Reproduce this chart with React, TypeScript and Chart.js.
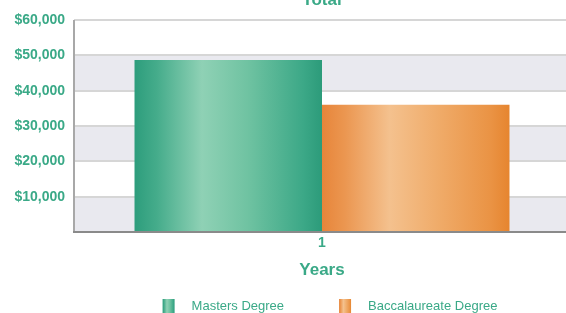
import React, { useEffect, useRef } from "react";
import { Chart, registerables } from "chart.js";

Chart.register(...registerables);

const categories = ["1"];
const seriesNames = ["Masters Degree", "Baccalaureate Degree"];
const mastersValues = [48700];
const baccalaureateValues = [36000];
const yTicks = [0, 10000, 20000, 30000, 40000, 50000, 60000];

const TEAL = "#3aa987";
const FONT = "'Liberation Sans', Arial, sans-serif";

const gradStops = [
  ["#2d9d7c", "#45ac8b", "#8fd1b5", "#70c3a2", "#3ca887", "#2c9b7a"],
  ["#e7853a", "#eb9650", "#f4c18e", "#f0ad6c", "#ea9344", "#e6852f"],
];
const stopPos = [0, 0.12, 0.36, 0.6, 0.9, 1];

function makeGrad(ctx: CanvasRenderingContext2D, x0: number, x1: number, i: number) {
  const g = ctx.createLinearGradient(x0, 0, x1, 0);
  stopPos.forEach((p, k) => g.addColorStop(p, gradStops[i][k]));
  return g;
}

const bandsPlugin = {
  id: "bands",
  beforeDatasetsDraw(chart: any) {
    const { ctx, chartArea, scales } = chart;
    const y = scales.y;
    ctx.save();
    for (let k = 0; k < yTicks.length - 1; k++) {
      if (k % 2 === 0) {
        const top = y.getPixelForValue(yTicks[k + 1]);
        const bot = y.getPixelForValue(yTicks[k]);
        ctx.fillStyle = "#e9e9ef";
        ctx.fillRect(chartArea.left, top, chartArea.right - chartArea.left, bot - top);
      }
    }
    ctx.strokeStyle = "#d6d6d6";
    ctx.lineWidth = 2;
    for (let k = 1; k < yTicks.length; k++) {
      const py = Math.round(y.getPixelForValue(yTicks[k]));
      ctx.beginPath();
      ctx.moveTo(chartArea.left, py);
      ctx.lineTo(chartArea.right, py);
      ctx.stroke();
    }
    chart.data.datasets.forEach((ds: any, i: number) => {
      const meta = chart.getDatasetMeta(i);
      meta.data.forEach((el: any) => {
        const x0 = el.x - el.width / 2;
        const x1 = el.x + el.width / 2;
        el.options.backgroundColor = makeGrad(ctx, x0, x1, i);
      });
    });
    ctx.restore();
  },
  afterDatasetsDraw(chart: any) {
    const { ctx, chartArea } = chart;
    ctx.save();
    ctx.strokeStyle = "#a8a8a8";
    ctx.lineWidth = 2;
    ctx.beginPath();
    ctx.moveTo(chartArea.left, chartArea.top);
    ctx.lineTo(chartArea.left, chartArea.bottom);
    ctx.stroke();
    ctx.strokeStyle = "#8a8a8a";
    ctx.beginPath();
    ctx.moveTo(chartArea.left - 1, chartArea.bottom);
    ctx.lineTo(chartArea.right, chartArea.bottom);
    ctx.stroke();
    ctx.restore();
  },
};

const titleLegendPlugin = {
  id: "titleLegend",
  afterDraw(chart: any) {
    const { ctx, chartArea } = chart;
    ctx.save();
    ctx.fillStyle = TEAL;
    ctx.font = `bold 17px ${FONT}`;
    ctx.textAlign = "center";
    ctx.textBaseline = "alphabetic";
    ctx.fillText("Total", (chartArea.left + chartArea.right) / 2, 5);

    ctx.font = `13px ${FONT}`;
    ctx.textAlign = "left";
    ctx.textBaseline = "middle";
    const box = 12;
    const gapBoxText = 17;
    const gapItems = 55;
    const labels = chart.data.datasets.map((d: any) => d.label);
    const widths = labels.map((l: string) => box + gapBoxText + ctx.measureText(l).width);
    const total = widths.reduce((a: number, b: number) => a + b, 0) + gapItems * (labels.length - 1);
    let x = 330 - total / 2;
    const cy = 306;
    labels.forEach((l: string, i: number) => {
      ctx.fillStyle = makeGrad(ctx, x, x + box, i);
      ctx.fillRect(x, cy - 7, box, box + 3);
      ctx.fillStyle = TEAL;
      ctx.fillText(l, x + box + gapBoxText, cy);
      x += widths[i] + gapItems;
    });
    ctx.restore();
  },
};

export default function App() {
  const ref = useRef<HTMLCanvasElement>(null);
  useEffect(() => {
    if (!ref.current) return;
    const chart = new Chart(ref.current, {
      type: "bar",
      data: {
        labels: categories,
        datasets: [
          { label: seriesNames[0], data: mastersValues, backgroundColor: gradStops[0][2], borderWidth: 0 },
          { label: seriesNames[1], data: baccalaureateValues, backgroundColor: gradStops[1][2], borderWidth: 0 },
        ],
      },
      options: {
        responsive: false,
        animation: false,
        devicePixelRatio: 1,
        layout: { padding: { left: 0, right: 10, top: 20, bottom: 31 } },
        datasets: { bar: { categoryPercentage: 0.756, barPercentage: 1 } },
        plugins: { legend: { display: false }, title: { display: false }, tooltip: { enabled: false } },
        scales: {
          x: {
            grid: { display: false, drawTicks: false },
            border: { display: false },
            ticks: { color: TEAL, font: { family: FONT, size: 14, weight: "bold" }, padding: 3 },
            title: {
              display: true,
              text: "Years",
              color: TEAL,
              font: { family: FONT, size: 17, weight: "bold" },
              padding: { top: 0, bottom: 1 },
            },
            afterFit: (s: any) => { s.height = 50; },
          },
          y: {
            min: 0,
            max: 60000,
            grid: { display: false, drawTicks: false },
            border: { display: false },
            ticks: {
              stepSize: 10000,
              padding: 9,
              color: TEAL,
              font: { family: FONT, size: 14, weight: "bold" },
              callback: (v: any) => (v === 0 ? "" : "$" + Number(v).toLocaleString("en-US")),
            },
            afterFit: (s: any) => { s.width = 74; },
          },
        },
      },
      plugins: [bandsPlugin, titleLegendPlugin],
    });
    return () => chart.destroy();
  }, []);
  return (
    <div style={{ position: "fixed", left: 0, top: 0, width: 566, height: 313, overflow: "hidden", background: "#fff" }}>
      <canvas ref={ref} width={580} height={313} style={{ display: "block" }} />
    </div>
  );
}
